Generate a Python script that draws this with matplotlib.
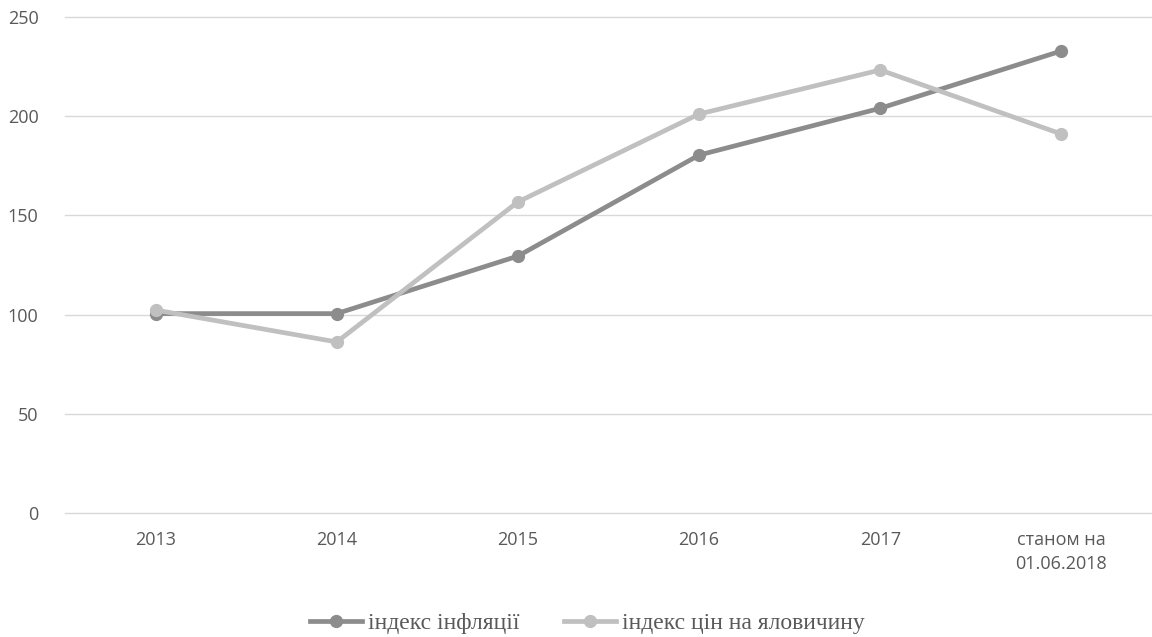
import matplotlib
matplotlib.use("Agg")
import matplotlib.pyplot as plt
from matplotlib.lines import Line2D

categories = ["2013", "2014", "2015", "2016", "2017", "станом на\n01.06.2018"]
inflation = [100.5, 100.5, 129.5, 180.4, 204.0, 232.9]
beef = [102.3, 86.2, 156.8, 201.1, 223.3, 191.0]
yticks = [0, 50, 100, 150, 200, 250]

c_infl = "#8c8c8c"
c_beef = "#c0c0c0"

fig = plt.figure(figsize=(11.52, 6.37), dpi=100)
ax = fig.add_axes([65/1152, 1-513/637, 1-65/1152, (513-17)/637])
x = list(range(len(categories)))
ax.plot(x, inflation, color=c_infl, lw=3.4, marker="o", ms=8.5, zorder=3, solid_capstyle="round")
ax.plot(x, beef, color=c_beef, lw=3.4, marker="o", ms=8.5, zorder=4, solid_capstyle="round")
ax.set_xlim(-0.5, len(categories) - 0.5)
ax.set_ylim(0, 250)
ax.set_yticks(yticks)
ax.set_xticks(x)
ax.set_xticklabels(categories, fontfamily="Open Sans", fontsize=13, color="#595959", linespacing=1.45)
ax.set_yticklabels([str(v) for v in yticks], fontfamily="Open Sans", fontsize=13, color="#595959")
ax.grid(axis="y", color="#d9d9d9", lw=1)
for gl in ax.get_ygridlines():
    gl.set_clip_on(False)
ax.set_axisbelow(True)
for s in ax.spines.values():
    s.set_visible(False)
ax.tick_params(axis="both", length=0)
ax.tick_params(axis="y", pad=19)
ax.tick_params(axis="x", pad=13)

handles = [Line2D([0], [0], color=c_infl, lw=3.4, marker="o", ms=8.5),
           Line2D([0], [0], color=c_beef, lw=3.4, marker="o", ms=8.5)]
fig.legend(handles, ["індекс інфляції", "індекс цін на яловичину"], loc="center",
           bbox_to_anchor=(0.51, 1-623/637), ncol=2, frameon=False,
           prop={"family": "Liberation Serif", "size": 17}, labelcolor="#595959",
           handlelength=2.2, handletextpad=0.25, columnspacing=1.9)
fig.savefig("out.png", dpi=100)
